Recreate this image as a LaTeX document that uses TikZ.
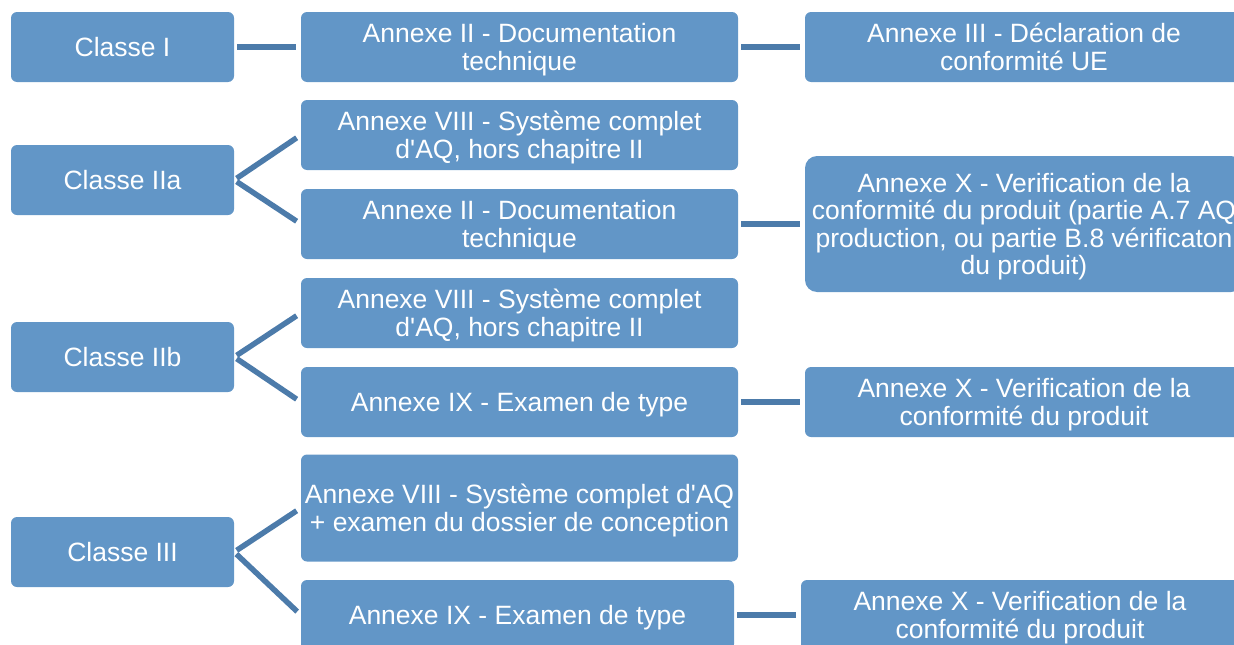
\documentclass[tikz,border=0pt]{standalone}
\usepackage{fontspec}
\setmainfont{Liberation Sans}
\definecolor{boxblue}{HTML}{6296C7}
\definecolor{linkblue}{HTML}{4C7BAA}
\newcommand\tstr{\rule{0pt}{24.8pt}}
\newcommand\bstr{\rule[-6pt]{0pt}{0pt}}
\tikzset{
  box/.style={fill=boxblue, rounded corners=6pt, text=white, align=center,
    inner sep=0pt, minimum width=437pt, minimum height=70pt,
    font=\fontsize{26.5}{27.5}\selectfont,
    execute at begin node={\tstr},
    execute at end node={\bstr}},
  classbox/.style={box, minimum width=223pt},
  link/.style={draw=linkblue, line width=5.5pt, shorten <=3pt, shorten >=5pt}
}
\begin{document}
\begin{tikzpicture}[x=1pt,y=-1pt]
\useasboundingbox (0,0) rectangle (1234,645);
\clip (0,0) rectangle (1234,645);
% row I
\node[classbox] (c1) at (122.5,47) {Classe I};
\node[box] (a1) at (519.5,47) {\tstr Annexe II - Documentation\\technique\bstr};
\node[box, minimum width=438pt] (a2) at (1024,47) {\tstr Annexe III - Déclaration de\\conformité UE\bstr};
% row IIa
\node[classbox] (c2) at (122.5,180) {Classe IIa};
\node[box] (b1) at (519.5,135) {\tstr Annexe VIII - Système complet\\d\textquotesingle AQ, hors chapitre II\bstr};
\node[box] (b2) at (519.5,224) {\tstr Annexe II - Documentation\\technique\bstr};
\node[box, minimum width=438pt, minimum height=136pt, rounded corners=12pt] (bx) at (1024,224)
  {\tstr Annexe X - Verification de la\\conformité du produit (partie A.7 AQ\\production, ou partie B.8 vérificaton\\du produit)\bstr};
% row IIb
\node[classbox] (c3) at (122.5,357) {Classe IIb};
\node[box] (d1) at (519.5,313) {\tstr Annexe VIII - Système complet\\d\textquotesingle AQ, hors chapitre II\bstr};
\node[box] (d2) at (519.5,402) {Annexe IX - Examen de type};
\node[box, minimum width=438pt] (dx) at (1024,402) {\tstr Annexe X - Verification de la\\conformité du produit\bstr};
% row III
\node[classbox] (c4) at (122.5,552) {Classe III};
\node[box, minimum height=107pt] (e1) at (519.5,508) {\tstr Annexe VIII - Système complet d\textquotesingle AQ\\+ examen du dossier de conception\bstr};
\node[box, minimum width=433pt] (e2) at (517.5,615) {Annexe IX - Examen de type};
\node[box, minimum width=438pt] (ex) at (1020,615) {\tstr Annexe X - Verification de la\\conformité du produit\bstr};
% connectors
\draw[link] (c1.east) -- (a1.west);
\draw[link] (a1.east) -- (a2.west);
\draw[link] (c2.east) -- (b1.west);
\draw[link] (c2.east) -- (b2.west);
\draw[link] (b2.east) -- (bx.west);
\draw[link] (c3.east) -- (d1.west);
\draw[link] (c3.east) -- (d2.west);
\draw[link] (d2.east) -- (dx.west);
\draw[link] (c4.east) -- (e1.west);
\draw[link] (c4.east) -- (e2.west);
\draw[link] (e2.east) -- (ex.west);
\end{tikzpicture}
\end{document}
